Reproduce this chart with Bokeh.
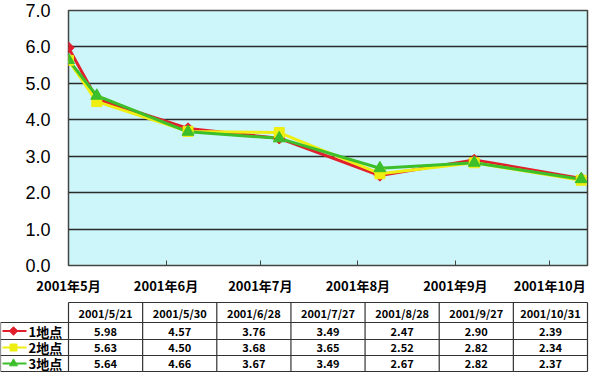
from datetime import date
from bokeh.plotting import figure
from bokeh.models import Range1d, FixedTicker, NumeralTickFormatter
from bokeh.core.properties import value
from bokeh.embed import file_html
from bokeh.resources import INLINE

# ---------------- data ----------------
dates = ["2001/5/21", "2001/5/30", "2001/6/28", "2001/7/27", "2001/8/28", "2001/9/27", "2001/10/31"]
site1 = [5.98, 4.57, 3.76, 3.49, 2.47, 2.90, 2.39]
site2 = [5.63, 4.50, 3.68, 3.65, 2.52, 2.82, 2.34]
site3 = [5.64, 4.66, 3.67, 3.49, 2.67, 2.82, 2.37]
series_names = ["1地点", "2地点", "3地点"]
tick_dates = ["2001/5/21", "2001/6/21", "2001/7/21", "2001/8/21", "2001/9/21", "2001/10/21"]
tick_labels = ["2001年5月", "2001年6月", "2001年7月", "2001年8月", "2001年9月", "2001年10月"]
y_ticks = [0, 1, 2, 3, 4, 5, 6, 7]
x_start = "2001/5/21"
x_end = "2001/11/2"

colors = ["#e2202c", "#eeee10", "#3cbf2a"]
markers = ["diamond", "square", "triangle"]


def to_day(s):
    y, m, d = map(int, s.split("/"))
    y0, m0, d0 = map(int, x_start.split("/"))
    return (date(y, m, d) - date(y0, m0, d0)).days


xs = [to_day(d) for d in dates]
tick_days = [to_day(d) for d in tick_dates]

JP = "Noto Sans CJK JP"

# ---------------- chart ----------------
p = figure(width=592, height=297,
           x_range=Range1d(0, to_day(x_end)), y_range=Range1d(0, 7),
           output_backend="svg", toolbar_location=None,
           min_border_left=68, min_border_right=5, min_border_top=10, min_border_bottom=28,
           background_fill_color="#cdf6fa", border_fill_color="white")
p.outline_line_color = "#444444"
p.outline_line_width = 1.5

p.xgrid.grid_line_color = None
p.ygrid.grid_line_color = "#2a2a2a"
p.ygrid.grid_line_width = 1.3
p.ygrid.ticker = FixedTicker(ticks=y_ticks)

xa = p.xaxis[0]
xa.ticker = FixedTicker(ticks=tick_days)
xa.major_label_overrides = {d: l for d, l in zip(tick_days, tick_labels)}
xa.major_tick_in = 5
xa.major_tick_out = 0
xa.minor_tick_line_color = None
xa.major_tick_line_color = "#444444"
xa.axis_line_color = None
xa.major_label_standoff = 10
xa.major_label_text_font = JP
xa.major_label_text_font_size = "13px"
xa.major_label_text_font_style = "bold"
xa.major_label_text_color = "black"

ya = p.yaxis[0]
ya.ticker = FixedTicker(ticks=y_ticks)
ya.formatter = NumeralTickFormatter(format="0.0")
ya.major_tick_in = 0
ya.major_tick_out = 0
ya.minor_tick_line_color = None
ya.axis_line_color = None
ya.major_label_standoff = 18
ya.major_label_text_font = "Liberation Sans"
ya.major_label_text_font_size = "18px"
ya.major_label_text_color = "black"

series = [site1, site2, site3]
for vals, c in zip(series, colors):
    p.line(xs, vals, line_color=c, line_width=3)
for vals, c, m in zip(series, colors, markers):
    if m == "diamond":
        p.scatter(xs, vals, marker="square", angle=0.785398, size=8, fill_color=c, line_color=c)
    elif m == "square":
        p.scatter(xs, vals, marker="square", size=10, fill_color=c, line_color=c)
    else:
        p.scatter(xs, vals, marker="triangle", size=12, fill_color=c, line_color=c)

# ---------------- table ----------------
TW, TH = 592, 80
t = figure(width=TW, height=TH, x_range=Range1d(0, TW), y_range=Range1d(TH, 0),
           output_backend="svg", toolbar_location=None,
           x_axis_type=None, y_axis_type=None, min_border=0,
           background_fill_color="white", border_fill_color="white")
t.outline_line_color = None
t.grid.visible = False

left0, left1, right = 0, 68, 587
ncol = len(dates)
cw = (right - left1) / ncol
col_edges = [left1 + i * cw for i in range(ncol + 1)]
row_edges = [5, 25, 42, 58, 74]

hx0 = [left1] + [left0] * 4
hx1 = [right] * 5
t.segment(x0=hx0, y0=row_edges, x1=hx1, y1=row_edges, line_color="#333333", line_width=1.2)
vx = [left0] + col_edges
vy0 = [row_edges[1]] + [row_edges[0]] * len(col_edges)
vy1 = [row_edges[-1]] * len(vx)
t.segment(x0=vx, y0=vy0, x1=vx, y1=vy1, line_color="#333333", line_width=1.2)

centers = [(col_edges[i] + col_edges[i + 1]) / 2 for i in range(ncol)]
hy = (row_edges[0] + row_edges[1]) / 2
t.text(x=centers, y=[hy] * ncol, text=dates, text_align="center", text_baseline="middle",
       text_font=value(JP), text_font_size="11px", text_font_style="bold", text_color="black")

for r, (vals, name, c, m) in enumerate(zip(series, series_names, colors, markers)):
    cy = (row_edges[r + 1] + row_edges[r + 2]) / 2
    t.text(x=centers, y=[cy] * ncol, text=[f"{v:.2f}" for v in vals],
           text_align="center", text_baseline="middle",
           text_font=value(JP), text_font_size="11px", text_font_style="bold", text_color="black")
    t.segment(x0=[2], y0=[cy], x1=[26], y1=[cy], line_color=c, line_width=2)
    if m == "diamond":
        t.scatter([13], [cy], marker="square", angle=0.785398, size=6, fill_color=c, line_color=c)
    elif m == "square":
        t.scatter([13], [cy], marker="square", size=7, fill_color=c, line_color=c)
    else:
        t.scatter([13], [cy], marker="triangle", size=8, fill_color=c, line_color=c)
    t.text(x=[28], y=[cy], text=[name], text_align="left", text_baseline="middle",
           text_font=value(JP), text_font_size="13px", text_font_style="bold", text_color="black")

open("out.html", "w").write(file_html([p, t], INLINE))
